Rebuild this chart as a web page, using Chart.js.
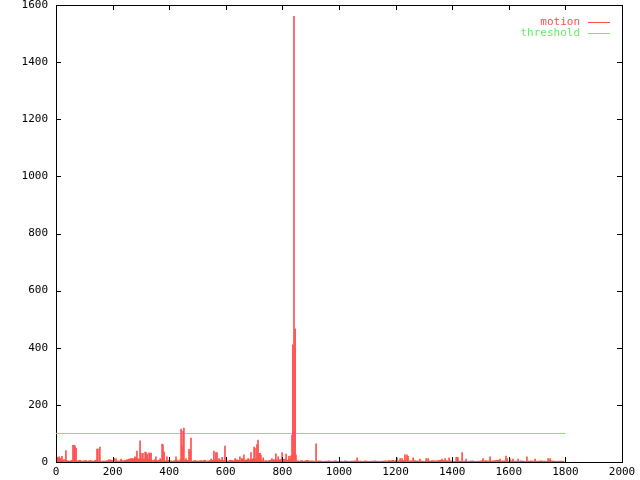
<!DOCTYPE html>
<html>
<head>
<meta charset="UTF-8">
<title>motion / threshold</title>
<script src="https://cdn.jsdelivr.net/npm/chart.js"></script>
<style>
body { margin: 0; background: #fff; }
canvas { display: block; }
</style>
</head>
<body>
<canvas id="motionChart" width="640" height="480"></canvas>
<script>
// axis ticks
const xTicks = [0, 200, 400, 600, 800, 1000, 1200, 1400, 1600, 1800, 2000];
const yTicks = [0, 200, 400, 600, 800, 1000, 1200, 1400, 1600];

// low level motion, one value every noiseStep frames
const noiseStep = 7;
const noiseValues = [
  12,14,9,6,8,5,4,3,6,5,3,4,6,3,4,5,
  3,5,4,3,6,4,3,2,4,3,5,8,6,4,3,4,
  3,5,4,6,8,10,12,10,14,12,10,8,9,11,10,8,
  6,5,8,4,6,5,4,3,5,6,4,3,5,6,4,8,
  5,4,6,3,4,3,5,4,3,5,4,6,3,4,5,6,
  8,6,5,7,4,5,3,4,6,5,4,8,6,5,10,6,
  7,9,8,10,12,9,8,6,4,3,5,4,6,5,8,6,
  7,8,9,10,8,6,10,8,5,3,4,3,5,3,4,6,
  3,4,3,2,3,4,3,2,3,3,4,2,3,4,3,2,
  3,2,4,3,2,3,3,4,2,3,3,2,4,3,2,3,
  3,4,3,2,3,3,4,3,5,4,6,4,5,4,3,5,
  4,5,3,4,3,5,4,3,4,3,2,3,4,3,5,4,
  4,5,6,5,4,5,3,4,3,2,3,4,3,2,3,3,
  2,3,4,3,2,3,3,4,3,5,3,4,3,4,5,6,
  4,3,4,3,2,3,4,3,3,2,3,4,3,2,3,3,
  4,3,2,3,3,4,3,3,2,3,4,3,3,2,3,3,
  3
];

// individual spikes
const spikeFrames = [4, 11, 14, 21, 35, 60, 64, 67, 71, 145, 148, 155, 205, 212, 230,
  272, 279, 286, 297, 300, 307, 315, 318, 322, 329, 332, 336, 353, 368, 375, 378, 382, 392,
  424, 442, 445, 449, 452, 459, 470, 474, 477, 548, 558, 565, 569, 576, 587, 597,
  633, 650, 657, 664, 679, 689, 700, 703, 710, 714, 717, 721, 724, 732,
  763, 777, 785, 799, 813, 823, 830, 834, 837, 841, 845, 848, 919, 1064,
  1205, 1216, 1223, 1233, 1240, 1244, 1262, 1286, 1308, 1315,
  1364, 1375, 1389, 1414, 1420, 1435, 1449,
  1509, 1534, 1569, 1590, 1594, 1604, 1615, 1633, 1664, 1693, 1739, 1746];
const spikeValues = [17, 18, 14, 20, 40, 58, 58, 56, 48, 45, 45, 52, 13, 12, 10,
  12, 18, 38, 74, 30, 30, 35, 33, 28, 32, 30, 31, 18, 12, 63, 60, 35, 18,
  18, 115, 57, 108, 119, 12, 44, 40, 84, 10, 38, 33, 33, 12, 16, 56,
  12, 18, 12, 25, 12, 33, 52, 49, 61, 77, 30, 30, 24, 15,
  12, 29, 18, 33, 28, 20, 22, 94, 410, 1560, 466, 25, 64, 15,
  15, 12, 12, 25, 25, 20, 15, 10, 12, 12,
  10, 12, 15, 16, 16, 33, 10,
  12, 18, 10, 21, 12, 12, 10, 10, 18, 10, 12, 12];

const thresholdFrames = [0, 1800];
const thresholdValues = [100, 100];

const RED = '#ff5050';
const GREEN = '#66ee66';
const FONT = 'DejaVu Sans Mono';

// gnuplot style border, inward mirrored ticks and key
const gnuplotFrame = {
  id: 'gnuplotFrame',
  beforeDatasetsDraw(chart) {
    const a = chart.chartArea, ctx = chart.ctx;
    ctx.save();
    ctx.strokeStyle = '#000';
    ctx.lineWidth = 1;
    ctx.strokeRect(Math.round(a.left) + 0.5, Math.round(a.top) + 0.5,
      Math.round(a.right - a.left), Math.round(a.bottom - a.top));
    ctx.restore();
  },
  afterDatasetsDraw(chart) {
    const a = chart.chartArea, ctx = chart.ctx;
    const xs = chart.scales.x, ys = chart.scales.y;
    const len = 5;
    ctx.save();
    ctx.strokeStyle = '#000';
    ctx.lineWidth = 1;
    ctx.beginPath();
    xTicks.forEach(v => {
      const px = Math.round(xs.getPixelForValue(v)) + 0.5;
      ctx.moveTo(px, a.bottom); ctx.lineTo(px, a.bottom - len);
      ctx.moveTo(px, a.top); ctx.lineTo(px, a.top + len);
    });
    yTicks.forEach(v => {
      const py = Math.round(ys.getPixelForValue(v)) + 0.5;
      ctx.moveTo(a.left, py); ctx.lineTo(a.left + len, py);
      ctx.moveTo(a.right, py); ctx.lineTo(a.right - len, py);
    });
    ctx.stroke();

    // key
    ctx.font = '11px "' + FONT + '"';
    ctx.textAlign = 'right';
    ctx.textBaseline = 'middle';
    const keys = [['motion', RED], ['threshold', GREEN]];
    keys.forEach((k, i) => {
      const y = Math.round(a.top) + 17 + i * 11;
      ctx.fillStyle = k[1];
      ctx.fillText(k[0], a.right - 42, y);
      ctx.strokeStyle = k[1];
      ctx.beginPath();
      ctx.moveTo(a.right - 34, y + 0.5);
      ctx.lineTo(a.right - 12, y + 0.5);
      ctx.stroke();
    });
    ctx.restore();
  }
};

const noisePoints = noiseValues.map((v, i) => ({ x: i * noiseStep, y: v }));
const spikePoints = spikeFrames.map((f, i) => ({ x: f, y: spikeValues[i] }));
const thresholdPoints = thresholdFrames.map((f, i) => ({ x: f, y: thresholdValues[i] }));

new Chart(document.getElementById('motionChart').getContext('2d'), {
  type: 'bar',
  data: {
    datasets: [
      {
        label: 'motion',
        data: spikePoints,
        backgroundColor: RED,
        barThickness: 1,
        grouped: false,
        order: 1
      },
      {
        label: 'motion floor',
        data: noisePoints,
        backgroundColor: RED,
        barThickness: 2,
        grouped: false,
        order: 2
      },
      {
        type: 'line',
        label: 'threshold',
        data: thresholdPoints,
        borderColor: GREEN,
        borderWidth: 1,
        pointRadius: 0,
        order: 3
      }
    ]
  },
  options: {
    responsive: false,
    animation: false,
    layout: { padding: { top: 5, right: 18, left: 0, bottom: 0 } },
    plugins: {
      legend: { display: false },
      tooltip: { enabled: false }
    },
    scales: {
      x: {
        type: 'linear',
        min: 0,
        max: 2000,
        offset: false,
        grid: { display: false, drawTicks: false },
        border: { display: false },
        afterBuildTicks: s => { s.ticks = xTicks.map(v => ({ value: v })); },
        afterFit: s => { s.height = 18; s.paddingLeft = 0; s.paddingRight = 0; },
        ticks: {
          autoSkip: false,
          maxRotation: 0,
          padding: 4,
          color: '#000',
          font: { family: FONT, size: 11 },
          callback: v => String(v)
        }
      },
      y: {
        min: 0,
        max: 1600,
        grid: { display: false, drawTicks: false },
        border: { display: false },
        afterBuildTicks: s => { s.ticks = yTicks.map(v => ({ value: v })); },
        afterFit: s => { s.width = 56; s.paddingTop = 0; s.paddingBottom = 0; },
        ticks: {
          padding: 8,
          color: '#000',
          font: { family: FONT, size: 11 },
          callback: v => String(v)
        }
      }
    }
  },
  plugins: [gnuplotFrame]
});
</script>
</body>
</html>
